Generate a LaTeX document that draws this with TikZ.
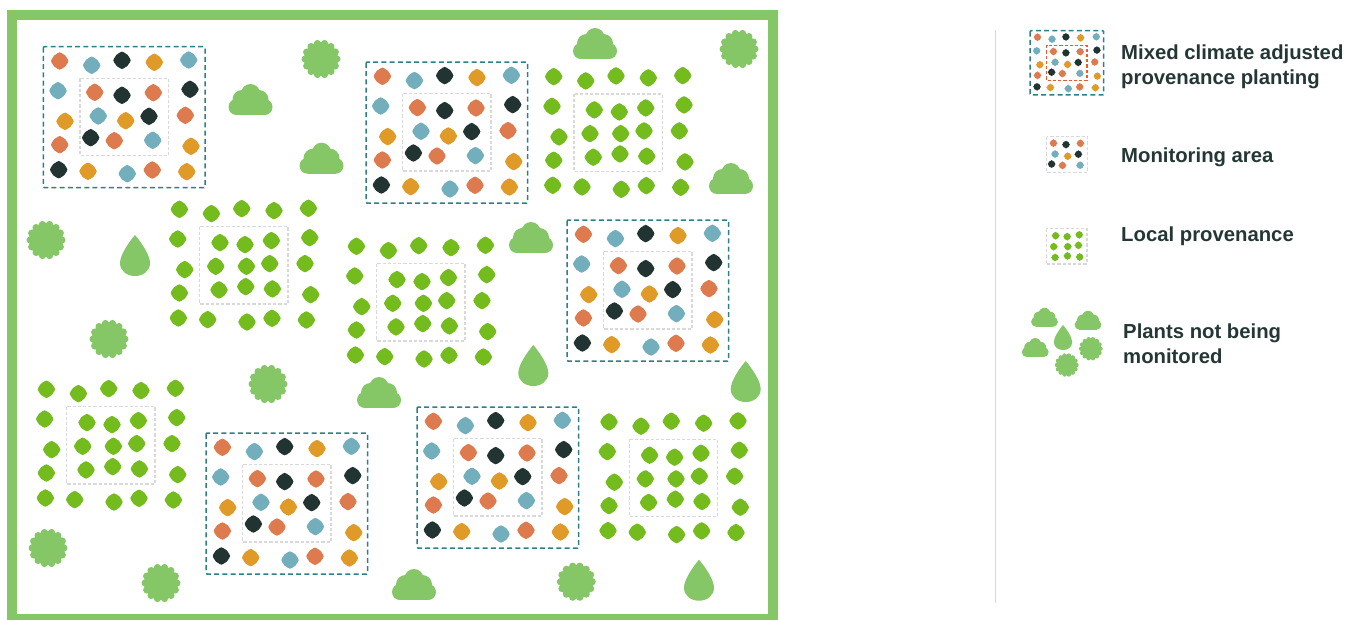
\documentclass[tikz,border=0pt]{standalone}
\usepackage{fontspec}
\setmainfont{Liberation Sans}
\usepackage{tikz}

\definecolor{spotorange}{HTML}{DE7B4E}
\definecolor{spotblue}{HTML}{72AEBC}
\definecolor{spotdark}{HTML}{213432}
\definecolor{spotyellow}{HTML}{DF9A27}
\definecolor{spotgreen}{HTML}{74BC1E}
\definecolor{plantgreen}{HTML}{85C666}
\definecolor{plotteal}{HTML}{2D7F88}
\definecolor{plotgray}{HTML}{D9D9D9}
\definecolor{plotred}{HTML}{EB5A2F}
\definecolor{labeldark}{HTML}{253735}

% Spot positions inside one plot
\def\outerspots{16.4/14.3/spotorange, 48.4/18.6/spotblue, 78.7/13.6/spotdark, 111/15.6/spotyellow, 145.4/13.3/spotblue,
    14.7/44/spotblue, 146.7/42.6/spotdark, 21.7/74.6/spotyellow, 142/68.6/spotorange,
    16.4/98/spotorange, 147.7/99.6/spotyellow,
    15.4/123/spotdark, 44.7/124.6/spotyellow, 84/127/spotblue, 109/123.3/spotorange, 143.4/125/spotyellow}
\def\mixedspots{51.4/45.6/spotorange, 78.7/48.6/spotdark, 110/46/spotorange,
    55/69.3/spotblue, 82.4/74/spotyellow, 105.7/69.6/spotdark,
    47.4/91/spotdark, 71/94/spotorange, 109.4/93.6/spotblue}
\def\localspots{57/47.6, 82/49.6, 108.4/45.6, 52.7/71.3, 83.4/71.3, 106.7/68.6, 56/94.9, 82.7/91.6, 109.4/93.9}
\def\localouter{16.4/14.3, 48.4/18.6, 78.7/13.6, 111/15.6, 145.4/13.3,
    14.7/44, 146.7/42.6, 21.7/74.6, 142/68.6,
    16.4/98, 147.7/99.6,
    15.4/123, 44.7/124.6, 84/127, 109/123.3, 143.4/125}

\newcommand{\spot}[3]{\fill[#3] (#1,#2) circle (7.8) (#1-5.1,#2) circle (3.6) (#1+5.1,#2) circle (3.6) (#1,#2-5.1) circle (3.6) (#1,#2+5.1) circle (3.6);}
\newcommand{\mixedplot}[4][plotgray]{
    \begin{scope}[shift={(#2,#3)},scale=#4]
        \foreach \sx/\sy/\sc in \outerspots {\spot{\sx}{\sy}{\sc}}
        \foreach \sx/\sy/\sc in \mixedspots {\spot{\sx}{\sy}{\sc}}
        \draw[mixedframe] (0,0) rectangle (161.7,141);
        \draw[monitorframe,#1] (36.7,31.6) rectangle (125,109);
    \end{scope}}
\newcommand{\monitorplot}[3]{
    \begin{scope}[shift={(#1,#2)},scale=#3]
        \foreach \sx/\sy/\sc in \mixedspots {\spot{\sx}{\sy}{\sc}}
        \draw[monitorframe] (36.7,31.6) rectangle (125,109);
    \end{scope}}
\newcommand{\localinner}[3]{
    \begin{scope}[shift={(#1,#2)},scale=#3]
        \foreach \sx/\sy in \localspots {\spot{\sx}{\sy}{spotgreen}}
        \draw[monitorframe] (36.7,31.6) rectangle (125,109);
    \end{scope}}
\newcommand{\localplot}[2]{
    \localinner{#1}{#2}{1}
    \begin{scope}[shift={(#1,#2)}]
        \foreach \sx/\sy in \localouter {\spot{\sx}{\sy}{spotgreen}}
    \end{scope}}
% x, bottom y, scale
\newcommand{\cloud}[3]{
    \begin{scope}[shift={(#1,#2)},scale=#3]
        \fill[plantgreen] (-14,-16) rectangle (14,0);
        \fill[plantgreen] (-14,-8) circle (8) (14,-8) circle (8)
            (-8.5,-15.5) circle (9.5) (0,-21.5) circle (9.5) (8.5,-15.5) circle (9.5);
    \end{scope}}
\newcommand{\shrub}[3]{
    \begin{scope}[shift={(#1,#2)},scale=#3]
        \fill[plantgreen] (0,0) circle (17);
        \foreach \ang in {0,25.7,...,340} {\fill[plantgreen] (\ang:15.9) circle (3.6);}
    \end{scope}}
% x, top y, scale
\newcommand{\leafdrop}[3]{
    \fill[plantgreen,shift={(#1,#2)},scale=#3] (0,0) .. controls (6,7) and (15,20) .. (15,28)
        .. controls (15,36) and (8,41) .. (0,41) .. controls (-8,41) and (-15,36) .. (-15,28)
        .. controls (-15,20) and (-6,7) .. (0,0) -- cycle;}

\begin{document}
\begin{tikzpicture}[
        x=1pt, y=-1pt,
        mixedframe/.style={plotteal, line width=1.5pt, dash pattern=on 5pt off 3.2pt, rounded corners=1pt},
        monitorframe/.style={plotgray, line width=1.2pt, dash pattern=on 3.2pt off 2pt},
        legendlabel/.style={anchor=west, align=left, inner sep=0pt, text=labeldark,
            font=\fontsize{20.3}{25}\selectfont\bfseries}
    ]
    \useasboundingbox (0,0) rectangle (1347,619);
    % Site border
    \draw[plantgreen, line width=10pt] (12,14.5) rectangle (773,619.3);
    % Mixed plots
    \mixedplot{43.3}{46.7}{1}
    \mixedplot{366}{62}{1}
    \mixedplot{567}{220}{1}
    \mixedplot{206}{433}{1}
    \mixedplot{417}{407}{1}
    % Local plots
    \localplot{537.3}{62.3}
    \localplot{163}{195}
    \localplot{340}{232}
    \localplot{30}{375}
    \localplot{592.6}{407.6}
    % Plants not being monitored
    \foreach \cx/\cy in {250.5/115, 321.5/173.7, 595/59, 731/194, 531/253, 379/408, 414/600} {\cloud{\cx}{\cy}{1}}
    \foreach \cx/\cy in {321/59, 739/49, 46/240, 109/339, 268/384, 48/548, 161/583, 576.3/581.7} {\shrub{\cx}{\cy}{1}}
    \foreach \cx/\cy in {135/235, 533.3/345, 745.7/361, 699/559.7} {\leafdrop{\cx}{\cy}{1}}
    % Legend
    \draw[plotgray, line width=0.8pt] (995,30) -- (995,603);
    \mixedplot[plotred]{1030}{30.7}{0.456}
    \monitorplot{1029.8}{122.2}{0.46}
    \localinner{1029.4}{213.8}{0.46}
    \cloud{1044.5}{326.7}{0.61}
    \cloud{1088}{329.7}{0.61}
    \cloud{1035.2}{357}{0.61}
    \leafdrop{1063}{325}{0.61}
    \shrub{1090.8}{348.7}{0.61}
    \shrub{1066.7}{365}{0.61}
    \node[legendlabel] (mixedlabel) at (1121,66.5) {Mixed climate adjusted\\provenance planting};
    \node[legendlabel] (monitorlabel) at (1121,157) {Monitoring area};
    \node[legendlabel] (locallabel) at (1121,236) {Local provenance};
    \node[legendlabel] (plantslabel) at (1123,343.5) {Plants not being\\monitored};
\end{tikzpicture}
\end{document}
